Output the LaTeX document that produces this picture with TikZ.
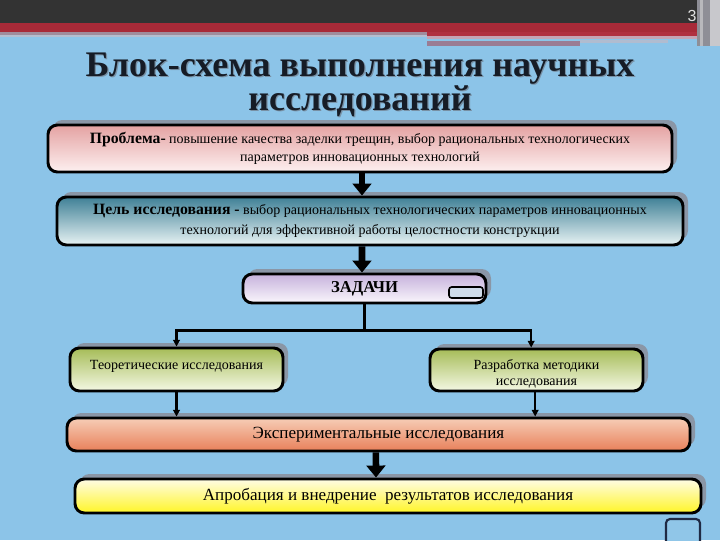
\documentclass[tikz,border=0pt]{standalone}
\usepackage{fontspec}
\setmainfont{Liberation Serif}
\newfontfamily\numfont{Liberation Sans}
\usetikzlibrary{arrows.meta,shadows}
\definecolor{bg}{HTML}{8CC4E8}
\definecolor{topbar}{HTML}{333333}
\definecolor{redband}{HTML}{A82A38}
\definecolor{stripeA}{HTML}{A08C9C}
\definecolor{stripeB}{HTML}{B4BED0}
\definecolor{stripeC}{HTML}{B03040}
\definecolor{stripeD}{HTML}{C4A4B4}
\definecolor{stripeE}{HTML}{B0BCD0}
\definecolor{stripeF}{HTML}{9A7C94}
\definecolor{vstripeA}{HTML}{8E8E96}
\definecolor{vstripeB}{HTML}{B8B8BC}
\definecolor{vstripeC}{HTML}{C8C8CC}
\definecolor{shadowgray}{HTML}{8A96A6}
\definecolor{titlecol}{HTML}{161C26}
\definecolor{titleshade}{HTML}{7890A4}
\definecolor{probtop}{HTML}{E4A2A2}
\definecolor{probbot}{HTML}{FDF0F0}
\definecolor{celtop}{HTML}{3F8096}
\definecolor{celmid}{HTML}{A9CDD6}
\definecolor{celbot}{HTML}{E8F3F4}
\definecolor{zadtop}{HTML}{C6B2DC}
\definecolor{zadbot}{HTML}{FAF6FC}
\definecolor{icon}{HTML}{CFDCEA}
\definecolor{greentop}{HTML}{A6BC58}
\definecolor{greenbot}{HTML}{F4F8E4}
\definecolor{exptop}{HTML}{F6CDB6}
\definecolor{expbot}{HTML}{E8805A}
\definecolor{aprtop}{HTML}{FFFCE6}
\definecolor{aprbot}{HTML}{FFF526}
\definecolor{cornerline}{HTML}{1F2A44}
\definecolor{cornerfill}{HTML}{90C6E8}
\tikzset{
  box/.style={draw=black, line width=2.2pt, rounded corners=7pt, inner sep=2pt, align=center,
    drop shadow={shadow xshift=3.75pt, shadow yshift=3.75pt, fill=shadowgray, opacity=1}},
  bigarrow/.style={line width=5pt, -{Triangle[length=9pt,width=14pt]}},
  thinarrow/.style={line width=1.6pt, -{Triangle[length=5pt,width=5pt]}},
  smalltxt/.style={font=\fontsize{10.5}{13.5}\selectfont},
  boldtxt/.style={font=\fontsize{12.5}{14}\selectfont\bfseries},
  bigtxt/.style={font=\fontsize{12.8}{14}\selectfont},
}
\begin{document}
\begin{tikzpicture}[x=0.75pt,y=-0.75pt]
\useasboundingbox (0,0) rectangle (720,540);
% background
\fill[bg] (0,0) rectangle (720,540);
\fill[topbar] (0,0) rectangle (720,23);
\fill[redband] (0,23) rectangle (720,32);
\fill[stripeA] (0,32) rectangle (720,35);
\fill[stripeB] (0,35) rectangle (720,37);
\fill[stripeC] (427,32) rectangle (703,36);
\fill[stripeD] (427,36) rectangle (703,39);
\fill[stripeE] (580,40) rectangle (668,43);
\fill[stripeF] (427,41) rectangle (580,46);
\fill[vstripeA] (697,0) rectangle (710,46);
\fill[vstripeB] (700,0) rectangle (703,46);
\fill[vstripeC] (710,0) rectangle (720,46);
\node[text=white!88!black, font=\numfont\fontsize{12}{12}\selectfont] (num) at (692,16) {3};
% title
\node[text=titleshade, align=center, font=\fontsize{27}{24}\selectfont\bfseries] (titleshadow) at (361.2,85.6)
  {Блок-схема выполнения научных\\исследований};
\node[text=titlecol, align=center, font=\fontsize{27}{24}\selectfont\bfseries] (title) at (360,84.5)
  {Блок-схема выполнения научных\\исследований};
% boxes
\node[box, minimum width=468pt, minimum height=35.25pt, top color=probtop, bottom color=probbot, smalltxt] (prob) at (360,148.5)
  {{\fontsize{11.8}{13.5}\selectfont\bfseries Проблема-} повышение качества заделки трещин, выбор рациональных технологических\\параметров инновационных технологий};
\node[box, minimum width=469.5pt, minimum height=36pt, top color=celtop, middle color=celmid, bottom color=celbot, font=\fontsize{10.5}{14.8}\selectfont] (cel) at (370,221)
  {{\fontsize{11.8}{14.8}\selectfont\bfseries Цель исследования -} выбор рациональных технологических параметров инновационных\\технологий для эффективной работы целостности конструкции};
\node[box, minimum width=182.25pt, minimum height=21.75pt, top color=zadtop, bottom color=zadbot, boldtxt] (zad) at (364.5,288.5) {ЗАДАЧИ};
\node[draw=black, line width=1.2pt, rounded corners=2pt, fill=icon, minimum width=25.5pt, minimum height=8.25pt, inner sep=0pt] (zadicon) at (466,292.5) {};
\node[box, minimum width=159.75pt, minimum height=32.25pt, top color=greentop, bottom color=greenbot, smalltxt, text height=7pt, text depth=7.5pt] (teo) at (176.5,369.5)
  {Теоретические исследования};
\node[box, minimum width=159.75pt, minimum height=31.5pt, top color=greentop, bottom color=greenbot, font=\fontsize{10.5}{12}\selectfont, text height=23.5pt, text depth=-1.5pt] (raz) at (536.5,370)
  {Разработка методики\\исследования};
\node[box, minimum width=467.25pt, minimum height=24.75pt, top color=exptop, bottom color=expbot, bigtxt] (exp) at (378.5,434.5)
  {Экспериментальные исследования};
\node[box, minimum width=469.5pt, minimum height=25.5pt, top color=aprtop, bottom color=aprbot, bigtxt] (apr) at (388,496)
  {Апробация и внедрение\ \ результатов исследования};
\node[draw=cornerline, line width=1.6pt, rounded corners=3pt, fill=cornerfill, minimum width=25.5pt, minimum height=20.25pt, inner sep=0pt] (corner) at (683,532.5) {};
% connectors
\draw[bigarrow] ([xshift=1.5pt]prob.south) -- ([xshift=-6pt]cel.north);
\draw[bigarrow] ([xshift=-6pt]cel.south) -- ([xshift=-1.9pt]zad.north);
\draw[thinarrow] (zad.south) -- ++(0,26) -| (teo.north);
\draw[thinarrow] (zad.south) -- ++(0,26) -| ([xshift=-4pt]raz.north);
\draw[thinarrow] (teo.south) -- (teo.south |- exp.north);
\draw[thinarrow] ([xshift=-1pt]raz.south) -- ([xshift=-1pt]raz.south |- exp.north);
\draw[bigarrow] ([xshift=-2pt]exp.south) -- ([xshift=-9pt]apr.north);
\end{tikzpicture}
\end{document}
